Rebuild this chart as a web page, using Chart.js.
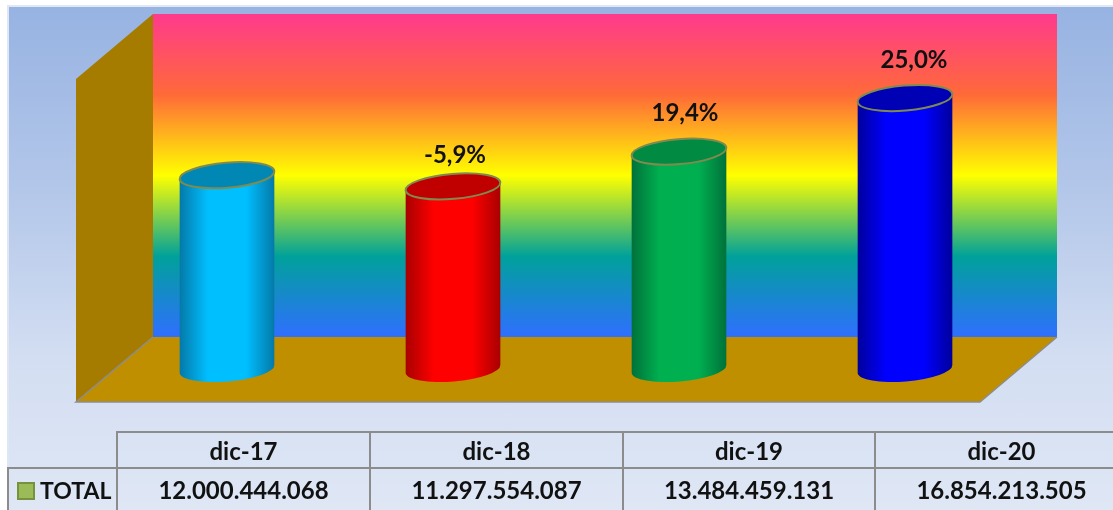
<!DOCTYPE html>
<html lang="es">
<head>
<meta charset="utf-8">
<title>Total por año</title>
<script src="https://cdn.jsdelivr.net/npm/chart.js@4/dist/chart.umd.min.js"></script>
<style>
    html, body { margin: 0; padding: 0; background: #fff; overflow: hidden; }
    #frame {
        position: absolute; left: 7px; top: 5px; width: 1106px; height: 505px; box-sizing: border-box;
        border-left: 2px solid #dfe7f5; border-top: 2px solid #dfe7f5;
        background: linear-gradient(to bottom, #97b3e2 0%, #b2c6e9 35%, #d3def2 70%, #dfe7f5 100%);
    }
    #chart { position: absolute; left: 0; top: 0; }
    /* la dernière colonne déborde de la fenêtre, comme sur l'original */
    #clip { position: absolute; left: 0; top: 0; width: 1113px; height: 510px; overflow: hidden; }
    #dataTable {
        position: absolute; left: 7px; top: 431px; width: 1120px; height: 79px;
        border-collapse: collapse; table-layout: fixed;
        font-family: Lato, "Open Sans", sans-serif; font-weight: 700; font-size: 24px; color: #111;
    }
    #dataTable td { border: 2px solid #8c8c8c; text-align: center; padding: 0; white-space: nowrap; }
    #dataTable tr:first-child { height: 36px; }
    #dataTable td.empty { border-top: none; border-left: none; }
    #dataTable td.serie { text-align: left; padding-left: 8px; font-size: 23px; }
    #dataTable td:last-child { border-right: none; }
    #dataTable tr:last-child td { border-bottom: none; }
    .swatch {
        display: inline-block; width: 14px; height: 14px; margin-right: 5px;
        background: #9bbb59; border: 2px solid #76923c; vertical-align: -1px;
    }
</style>
</head>
<body>
<div id="frame"></div>
<canvas id="chart" width="1113" height="510"></canvas>
<div id="clip"><table id="dataTable"></table></div>

<script>
// Données du graphique
const categories = ['dic-17', 'dic-18', 'dic-19', 'dic-20'];
const totals = [12000444068, 11297554087, 13484459131, 16854213505];
const variations = ['', '-5,9%', '19,4%', '25,0%'];
const serieName = 'TOTAL';

const bodyColors = ['#00bfff', '#ff0000', '#00b050', '#0000ff'];
const edgeColors = ['#0479a8', '#a80000', '#00713a', '#00009a'];
const topColors = ['#0087b4', '#c00000', '#008a42', '#0000b4'];

// Décalage des étiquettes par rapport au haut du cylindre
const labelShiftX = [0, 2, 6, 9];
const labelShiftY = [0, -31, -38, -38];

// Cube 3D
const wall = { left: 153, right: 1057, top: 14, bottom: 337 };
const front = { left: 76, right: 980, top: 79, bottom: 402 };

function buildTable() {
    const fmt = v => String(v).replace(/\B(?=(\d{3})+$)/g, '.');
    const head = categories.map(c => `<td>${c}</td>`).join('');
    const row = totals.map(v => `<td>${fmt(v)}</td>`).join('');
    document.getElementById('dataTable').innerHTML =
        `<colgroup><col style="width:109px"><col style="width:253px"><col style="width:253px"><col style="width:252px"><col></colgroup>` +
        `<tr><td class="empty"></td>${head}</tr>` +
        `<tr><td class="serie"><span class="swatch"></span>${serieName}</td>${row}</tr>`;
}

function polygon(ctx, points, fill) {
    ctx.beginPath();
    points.forEach((p, i) => i ? ctx.lineTo(p[0], p[1]) : ctx.moveTo(p[0], p[1]));
    ctx.closePath();
    ctx.fillStyle = fill;
    ctx.fill();
}

// Fond, mur gauche et plancher
const cubePlugin = {
    id: 'cube',
    beforeDraw(chart) {
        const ctx = chart.ctx;
        ctx.save();
        const g = ctx.createLinearGradient(0, wall.top, 0, wall.bottom);
        g.addColorStop(0, '#ff3a8c');
        g.addColorStop(0.25, '#ff6a38');
        g.addColorStop(0.5, '#ffff00');
        g.addColorStop(0.75, '#00a19a');
        g.addColorStop(1, '#2f6fff');
        ctx.fillStyle = g;
        ctx.fillRect(wall.left, wall.top, wall.right - wall.left, wall.bottom - wall.top);

        polygon(ctx, [[front.left, front.top], [wall.left, wall.top], [wall.left, wall.bottom], [front.left, front.bottom]], '#a67c00');
        polygon(ctx, [[front.left, front.bottom], [wall.left, wall.bottom], [wall.right, wall.bottom], [front.right, front.bottom]], '#bf8f00');

        ctx.strokeStyle = '#8c8c8c';
        ctx.lineWidth = 1.5;
        ctx.beginPath();
        ctx.moveTo(wall.left, wall.bottom);
        ctx.lineTo(front.left, front.bottom);
        ctx.lineTo(front.right, front.bottom);
        ctx.lineTo(wall.right, wall.bottom);
        ctx.stroke();
        ctx.restore();
    }
};

// Les barres sont dessinées en cylindres à partir des éléments du graphique
const cylinderPlugin = {
    id: 'cylinder',
    beforeDatasetDraw(chart, args) {
        const ctx = chart.ctx;
        const tilt = -4.8 * Math.PI / 180;
        const ry = 12.5;
        const baseShift = 3;
        args.meta.data.forEach((bar, i) => {
            const rx = bar.width / 2;
            const top = bar.y;
            const bottom = bar.base + baseShift;
            const g = ctx.createLinearGradient(bar.x - rx, 0, bar.x + rx, 0);
            g.addColorStop(0, edgeColors[i]);
            g.addColorStop(0.3, bodyColors[i]);
            g.addColorStop(0.7, bodyColors[i]);
            g.addColorStop(1, edgeColors[i]);

            ctx.save();
            ctx.beginPath();
            ctx.ellipse(bar.x, bottom, rx, ry, tilt, 0, Math.PI);
            ctx.ellipse(bar.x, top, rx, ry, tilt, Math.PI, 0, true);
            ctx.closePath();
            ctx.fillStyle = g;
            ctx.fill();

            ctx.beginPath();
            ctx.ellipse(bar.x, top, rx, ry, tilt, 0, 2 * Math.PI);
            ctx.fillStyle = topColors[i];
            ctx.fill();
            ctx.strokeStyle = '#7f8a50';
            ctx.lineWidth = 2;
            ctx.stroke();

            if (variations[i]) {
                ctx.fillStyle = '#111';
                ctx.font = '700 24px Lato, "Open Sans", sans-serif';
                ctx.textAlign = 'center';
                ctx.textBaseline = 'middle';
                ctx.fillText(variations[i], bar.x + labelShiftX[i], top + labelShiftY[i]);
            }
            ctx.restore();
        });
        return false;
    }
};

buildTable();

new Chart(document.getElementById('chart').getContext('2d'), {
    type: 'bar',
    data: {
        labels: categories,
        datasets: [{
            label: serieName,
            data: totals,
            backgroundColor: bodyColors,
            barThickness: 95
        }]
    },
    options: {
        responsive: false,
        animation: false,
        layout: { padding: { left: 114, right: 95, top: 48, bottom: 144 } },
        plugins: {
            legend: { display: false },
            tooltip: { enabled: false }
        },
        scales: {
            x: { display: false },
            y: { display: false, min: 0, max: 20000000000 }
        }
    },
    plugins: [cubePlugin, cylinderPlugin]
});
</script>
</body>
</html>
